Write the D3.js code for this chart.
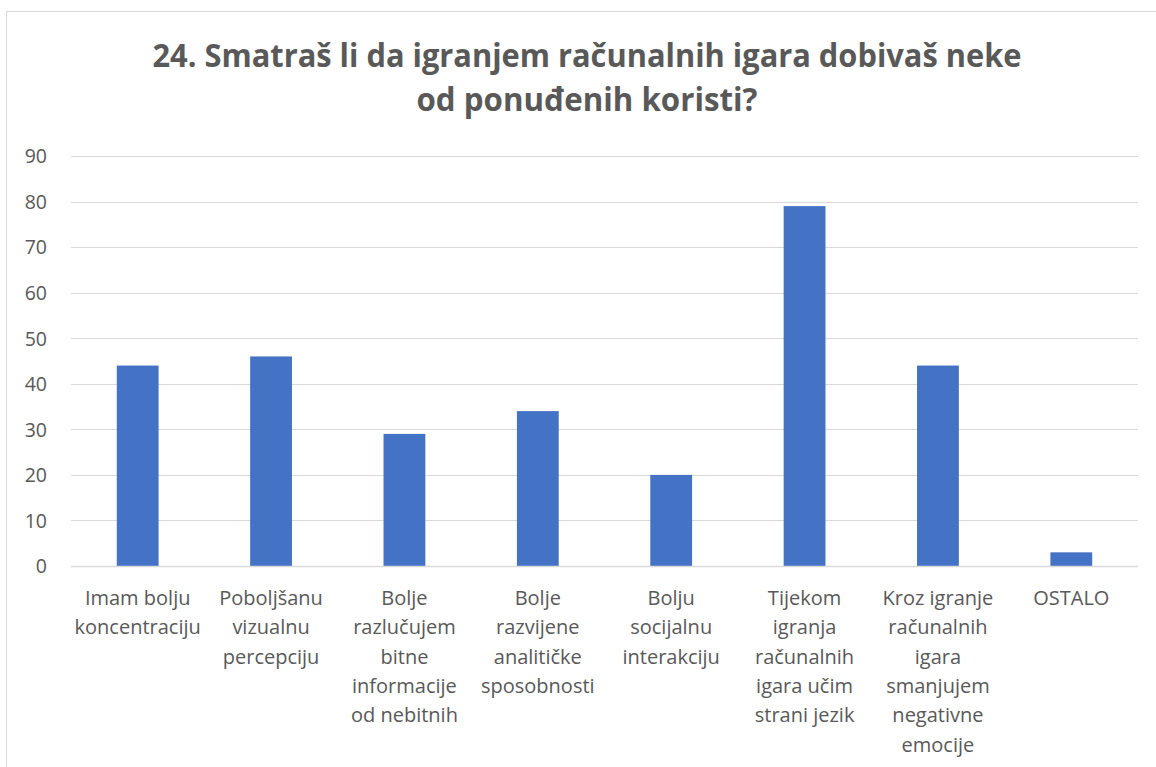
<!DOCTYPE html>
<html><head><meta charset="utf-8">
<script src="https://cdn.jsdelivr.net/npm/d3@7"></script>
<style>body{margin:0;background:#fff;} svg{display:block;}</style>
</head><body>
<svg id="c" width="1156" height="767"></svg>
<script>
const titleLines = ["24. Smatraš li da igranjem računalnih igara dobivaš neke", "od ponuđenih koristi?"];
const categories = [
  ["Imam bolju", "koncentraciju"],
  ["Poboljšanu", "vizualnu", "percepciju"],
  ["Bolje", "razlučujem", "bitne", "informacije", "od nebitnih"],
  ["Bolje", "razvijene", "analitičke", "sposobnosti"],
  ["Bolju", "socijalnu", "interakciju"],
  ["Tijekom", "igranja", "računalnih", "igara učim", "strani jezik"],
  ["Kroz igranje", "računalnih", "igara", "smanjujem", "negativne", "emocije"],
  ["OSTALO"]
];
const values = [44, 46, 29, 34, 20, 79, 44, 3];
const yTicks = [0, 10, 20, 30, 40, 50, 60, 70, 80, 90];

const svg = d3.select("#c");
const m = {left: 71, right: 1138, top: 156, bottom: 566};
const textCol = "#595959";
const font = "'Open Sans', sans-serif";

svg.append("rect").attr("x", 6.5).attr("y", 11.5).attr("width", 1160).attr("height", 800)
  .attr("fill", "#fff").attr("stroke", "#d9d9d9").attr("stroke-width", 1);

const x = d3.scaleBand().domain(d3.range(categories.length)).range([m.left, m.right]).paddingInner(0.6865).paddingOuter(0.34325);
const y = d3.scaleLinear().domain([0, 90]).range([m.bottom, m.top]);

// gridlines
svg.append("g").selectAll("line").data(yTicks).join("line")
  .attr("x1", m.left).attr("x2", m.right)
  .attr("y1", d => Math.round(y(d)) + 0.5).attr("y2", d => Math.round(y(d)) + 0.5)
  .attr("stroke", "#d9d9d9").attr("stroke-width", 1);

// y axis labels
const yAxis = d3.axisLeft(y).tickValues(yTicks).tickSize(0).tickPadding(0);
const gy = svg.append("g").attr("transform", "translate(47,0)").call(yAxis);
gy.select(".domain").remove();
gy.selectAll("text").attr("font-family", font).attr("font-size", 19.5).attr("fill", textCol).attr("dy", "0.35em");

// bars
svg.append("g").selectAll("rect").data(values).join("rect")
  .attr("x", (d, i) => x(i)).attr("width", x.bandwidth())
  .attr("y", d => y(d)).attr("height", d => y(0) - y(d))
  .attr("fill", "#4472c4");

// baseline
svg.append("line").attr("x1", m.left).attr("x2", m.right)
  .attr("y1", Math.round(y(0)) + 0.5).attr("y2", Math.round(y(0)) + 0.5)
  .attr("stroke", "#d9d9d9").attr("stroke-width", 1.5);

// category labels
const xl = svg.append("g");
categories.forEach((lines, i) => {
  const cx = x(i) + x.bandwidth() / 2;
  const t = xl.append("text").attr("text-anchor", "middle").attr("font-family", font)
    .attr("font-size", 20).attr("fill", textCol);
  lines.forEach((ln, j) => {
    t.append("tspan").attr("x", cx).attr("y", 605 + j * 29.3).text(ln);
  });
});

// title
const tg = svg.append("g");
const tWidths = [869, 341];
titleLines.forEach((ln, i) => {
  tg.append("text").attr("x", 587).attr("y", 67 + i * 44).attr("text-anchor", "middle")
    .attr("font-family", "'Liberation Sans Narrow', 'Open Sans', sans-serif").attr("font-weight", "bold")
    .attr("font-size", 32).attr("fill", textCol)
    .attr("textLength", tWidths[i]).attr("lengthAdjust", "spacingAndGlyphs")
    .text(ln);
});
</script>
</body></html>
